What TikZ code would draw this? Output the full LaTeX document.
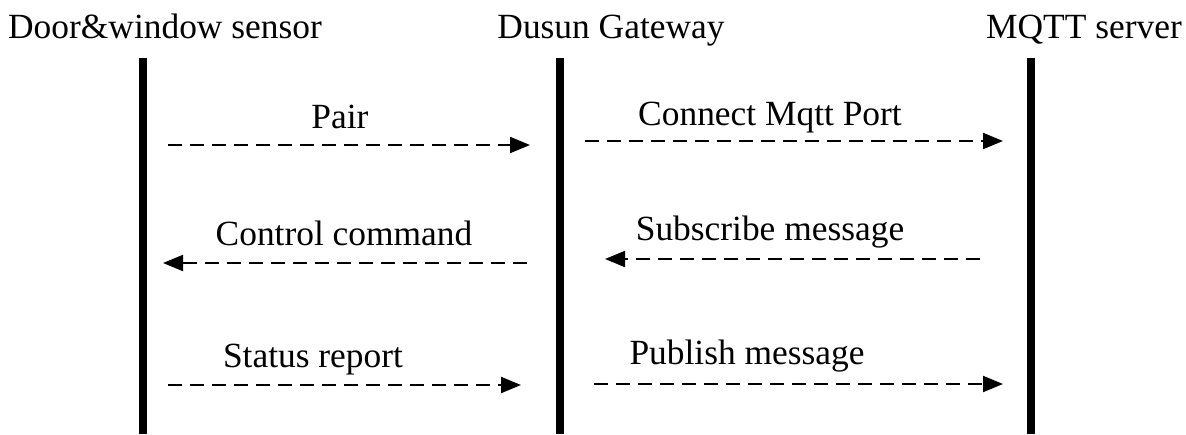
\documentclass[tikz,border=0pt]{standalone}
\usepackage{fontspec}
\setmainfont{Liberation Serif}
\usetikzlibrary{arrows.meta}
\tikzset{
  lifeline/.style={line width=4pt},
  msg/.style={line width=1pt, dash pattern=on 7pt off 4pt, -{Triangle[length=10pt,width=8pt]}},
  lbl/.style={anchor=base, inner sep=0pt, font=\fontsize{17.7}{20}\selectfont},
}
\begin{document}
\begin{tikzpicture}[x=0.5pt, y=-0.5pt]
      \useasboundingbox (0, 0) rectangle (1186, 434);

      % participants
      \node[lbl] (sensor) at (165, 38) {Door\&window sensor};
      \node[lbl] (gateway) at (611, 38) {Dusun Gateway};
      \node[lbl] (server) at (1084, 38) {MQTT server};

      \coordinate (sensortop) at (143, 58);
      \coordinate (sensorbot) at (143, 434);
      \coordinate (gatewaytop) at (560, 58);
      \coordinate (gatewaybot) at (560, 434);
      \coordinate (servertop) at (1031, 58);
      \coordinate (serverbot) at (1031, 434);
      \draw[lifeline] (sensortop) -- (sensorbot);
      \draw[lifeline] (gatewaytop) -- (gatewaybot);
      \draw[lifeline] (servertop) -- (serverbot);

      % messages
      \coordinate (pairA) at (168, 145);
      \coordinate (pairB) at (530, 145);
      \coordinate (connA) at (585, 141);
      \coordinate (connB) at (1003, 141);
      \coordinate (ctrlA) at (527, 263);
      \coordinate (ctrlB) at (163, 263);
      \coordinate (subA) at (980, 259);
      \coordinate (subB) at (605, 259);
      \coordinate (statA) at (168, 385);
      \coordinate (statB) at (521, 385);
      \coordinate (pubA) at (594, 384);
      \coordinate (pubB) at (1003, 384);

      \draw[msg] (pairA) -- (pairB);
      \draw[msg] (connA) -- (connB);
      \draw[msg] (ctrlA) -- (ctrlB);
      \draw[msg] (subA) -- (subB);
      \draw[msg] (statA) -- (statB);
      \draw[msg] (pubA) -- (pubB);

      \node[lbl] (pair) at (340, 128) {Pair};
      \node[lbl] (conn) at (770, 125) {Connect Mqtt Port};
      \node[lbl] (ctrl) at (344, 245) {Control command};
      \node[lbl] (sub) at (770, 240) {Subscribe message};
      \node[lbl] (stat) at (313, 367) {Status report};
      \node[lbl] (pub) at (747, 364) {Publish message};
\end{tikzpicture}
\end{document}
